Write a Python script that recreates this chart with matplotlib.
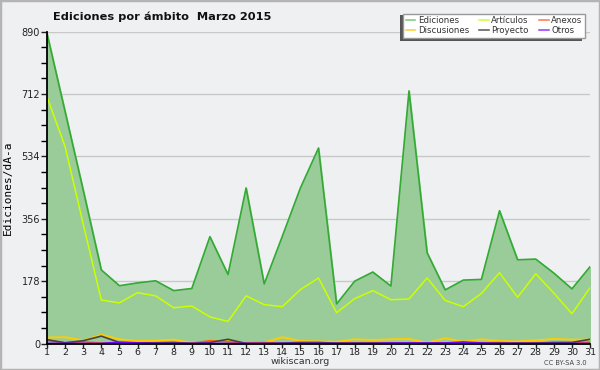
import matplotlib
matplotlib.use("Agg")
import matplotlib.pyplot as plt
from matplotlib.patches import Rectangle
from matplotlib.ticker import MultipleLocator

days = list(range(1, 32))
ediciones = [885, 662, 438, 210, 165, 173, 179, 151, 157, 305, 197, 444, 170, 306, 444, 558,
             113, 178, 204, 164, 721, 259, 153, 181, 183, 379, 239, 241, 201, 156, 219]
articulos = [704, 562, 341, 124, 116, 145, 136, 102, 107, 76, 63, 136, 111, 105, 154, 187,
             88, 128, 151, 125, 127, 187, 123, 105, 143, 202, 132, 199, 144, 85, 159]
discusiones = [17, 18, 9, 25, 12, 7, 8, 11, 2, 5, 9, 2, 3, 18, 7, 6,
               5, 12, 10, 12, 13, 2, 15, 5, 12, 7, 6, 9, 13, 11, 11]
proyecto = [11, 2, 8, 21, 3, 2, 2, 3, 0, 3, 12, 0, 0, 1, 3, 3,
            1, 1, 1, 1, 1, 1, 1, 1, 1, 1, 1, 1, 3, 3, 12]
anexos = [8, 2, 5, 1, 1, 1, 1, 1, 1, 8, 5, 2, 3, 0, 1, 1,
          1, 1, 1, 1, 1, 1, 1, 1, 1, 3, 1, 1, 1, 1, 4]
otros = [0, 0, 0, 0, 3, 1, 0, 0, 0, 0, 0, 0, 0, 0, 0, 0,
         0, 0, 0, 1, 1, 1, 1, 4, 1, 0, 0, 0, 0, 0, 0]
yticks = [0, 178, 356, 534, 712, 890]

bg = "#eff0f2"
fig = plt.figure(figsize=(6, 3.7), dpi=100, facecolor=bg)
fig.patches.append(Rectangle((0, 0), 1, 1, transform=fig.transFigure, fill=False,
                             edgecolor="#b4b4b4", linewidth=2.5))
ax = fig.add_axes([47/600, 26.5/370, 543/600, 311.8/370])
ax.set_facecolor(bg)

ax.fill_between(days, ediciones, color="#99cc99", zorder=2)
ax.plot(days, ediciones, color="#33aa33", lw=1.2, zorder=3)
ax.plot(days, articulos, color="#ccff00", lw=1.1, zorder=4)
ax.plot(days, discusiones, color="#ffcc00", lw=1.4, zorder=5)
ax.plot(days, anexos, color="#ff6600", lw=1.2, zorder=5)
ax.plot(days, proyecto, color="#444444", lw=1.2, zorder=6)
ax.plot(days, otros, color="#7700ff", lw=1.4, zorder=6)

ax.set_xlim(1, 31)
ax.set_ylim(0, 890)
ax.set_xticks(days)
ax.set_yticks(yticks)
ax.yaxis.set_minor_locator(MultipleLocator(44.5))
ax.grid(axis="y", color="#c8c8c8", lw=1, zorder=1)
ax.set_axisbelow(True)
for s in ["top", "right"]:
    ax.spines[s].set_visible(False)
ax.spines["left"].set_linewidth(1.3)
ax.spines["bottom"].set_linewidth(1.3)
ax.spines["left"].set_zorder(7)
ax.spines["bottom"].set_zorder(7)
ax.tick_params(axis="both", labelsize=7, width=1, colors="#222222")
ax.tick_params(axis="y", length=4, pad=1)
ax.tick_params(axis="x", length=3, pad=0.5, labelsize=6.8)
ax.tick_params(axis="y", which="minor", length=4, width=1)
ax.set_ylabel("Ediciones/dÃ-a", fontsize=8, labelpad=6, family="DejaVu Sans Mono")

fig.text(0.27, 0.955, "Ediciones por ámbito  Marzo 2015", ha="center", va="center",
         fontsize=8.2, fontweight="bold", color="#111111")
fig.text(0.5, 0.022, "wikiscan.org", ha="center", va="center", fontsize=6.8,
         color="#333333")
fig.text(0.978, 0.020, "CC BY-SA 3.0", ha="right", va="center", fontsize=4.8,
         color="#444444")

# legend with a shadow offset to the lower left
lx, ly, lw_, lh = 403/600, (370-38)/370, 182/600, 26/370
fig.patches.append(Rectangle((lx - 3/600, ly - 3/370), lw_, lh, transform=fig.transFigure,
                             facecolor="#555555", edgecolor="none", zorder=8))
handles = [plt.Line2D([], [], color=c, lw=1.1) for c in
           ["#77cc77", "#ffcc33", "#ccff33", "#555555", "#ff7744", "#9933ff"]]
labels = ["Ediciones", "Discusiones", "Artículos", "Proyecto", "Anexos", "Otros"]
leg = fig.legend(handles, labels, ncol=3, loc="lower left",
                 bbox_to_anchor=(lx, ly, lw_, lh), mode="expand",
                 fontsize=6.2, frameon=True, fancybox=False,
                 edgecolor="#999999", facecolor="white", framealpha=1, borderpad=0.3,
                 labelspacing=0.15, handlelength=1.1, handletextpad=0.3,
                 columnspacing=0.3, borderaxespad=0)
leg.set_zorder(9)
for t in leg.get_texts():
    t.set_color("#333333")

fig.savefig("out.png", dpi=100, facecolor=bg)
